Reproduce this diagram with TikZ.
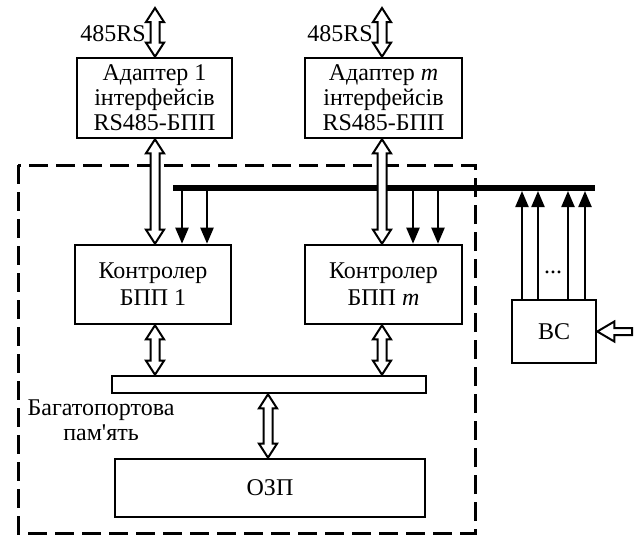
\documentclass[tikz,border=0pt]{standalone}
\usepackage{fontspec}
\setmainfont{Liberation Serif}
\newfontfamily\aposfont{Liberation Serif}
\usetikzlibrary{calc,arrows.meta}
\tikzset{
  blk/.style={draw, line width=2.6pt, inner sep=0pt, align=center,
    font=\fontsize{24}{25}\selectfont},
  txt/.style={inner sep=0pt, align=center, font=\fontsize{24}{25}\selectfont},
  hollow/.style={draw, line width=2pt, fill=white, line join=miter},
  busline/.style={line width=5.5pt},
  sig/.style={line width=2.2pt, -{Triangle[length=16pt,width=13pt]}},
  frame/.style={line width=3pt, dash pattern=on 19pt off 8pt}
}
% double-headed hollow arrow between an upper point #1 and a lower point #2
\newcommand\dblarr[2]{%
  \draw[hollow] let \p1=(#1), \p2=(#2) in
    (\x1,\y1) -- (\x1+9pt,\y1-14pt) -- (\x1+4.5pt,\y1-14pt) -- (\x1+4.5pt,\y2+14pt)
    -- (\x1+9pt,\y2+14pt) -- (\x1,\y2) -- (\x1-9pt,\y2+14pt) -- (\x1-4.5pt,\y2+14pt)
    -- (\x1-4.5pt,\y1-14pt) -- (\x1-9pt,\y1-14pt) -- cycle;}
\begin{document}
\begin{tikzpicture}[x=1pt,y=-1pt]
\useasboundingbox (0,0) rectangle (636,541);
% dashed frame
\draw[frame] (18,165) rectangle (475,533);
% blocks
\node[blk, minimum width=155, minimum height=80] (a1) at (154.5,98)
  {Адаптер 1\\інтерфейсів\\RS485-БПП};
\node[blk, minimum width=157, minimum height=80] (am) at (383.5,98)
  {Адаптер \textit{m}\\інтерфейсів\\RS485-БПП};
\node[blk, minimum width=156, minimum height=79, font=\fontsize{24}{27}\selectfont] (c1) at (153,284.5)
  {Контролер\\БПП 1};
\node[blk, minimum width=157, minimum height=79, font=\fontsize{24}{27}\selectfont] (cm) at (383.5,284.5)
  {Контролер\\БПП \textit{m}};
\node[blk, minimum width=84, minimum height=63] (bc) at (554,331.5) {ВС};
\node[blk, minimum width=314, minimum height=17] (bar) at (269,384.5) {};
\node[blk, minimum width=310, minimum height=58] (ozp) at (270,488) {ОЗП};
% labels
\node[txt, anchor=east] (l1) at (146,34) {485RS};
\node[txt, anchor=east] (lm) at (373,34) {485RS};
\node[txt] (mem) at (101,420) {Багатопортова\\пам{\aposfont'}ять};
\node[txt] (dots) at (553,272) {...};
% coordinates
\coordinate (t1) at (155,8);
\coordinate (tm) at (382,8);
\coordinate (busL) at (173,188);
\coordinate (busR) at (595,188);
\coordinate (inR) at (632,332);
% bus
\draw[busline] (busL) -- (busR);
% external double arrows
\dblarr{t1}{t1 |- a1.north}
\dblarr{tm}{tm |- am.north}
% adapter <-> controller
\dblarr{t1 |- a1.south}{t1 |- c1.north}
\dblarr{tm |- am.south}{tm |- cm.north}
% controller <-> memory bar
\dblarr{t1 |- c1.south}{t1 |- bar.north}
\dblarr{tm |- cm.south}{tm |- bar.north}
% bar <-> OZP
\dblarr{268,0 |- bar.south}{268,0 |- ozp.north}
% bus to controllers
\foreach \x in {182,207}{\draw[sig] (\x,188) -- (\x,0 |- c1.north);}
\foreach \x in {413,438}{\draw[sig] (\x,188) -- (\x,0 |- cm.north);}
% BC to bus
\foreach \x in {522,538,568,585}{\draw[sig] (\x,0 |- bc.north) -- (\x,191);}
% input arrow to BC
\draw[hollow] let \p1=(bc.east), \p2=(inR) in
  (\x1,\y1) -- (\x1+17pt,\y1+10pt) -- (\x1+17pt,\y1+3.5pt) -- (\x2,\y1+3.5pt)
  -- (\x2,\y1-3.5pt) -- (\x1+17pt,\y1-3.5pt) -- (\x1+17pt,\y1-10pt) -- cycle;
\end{tikzpicture}
\end{document}
